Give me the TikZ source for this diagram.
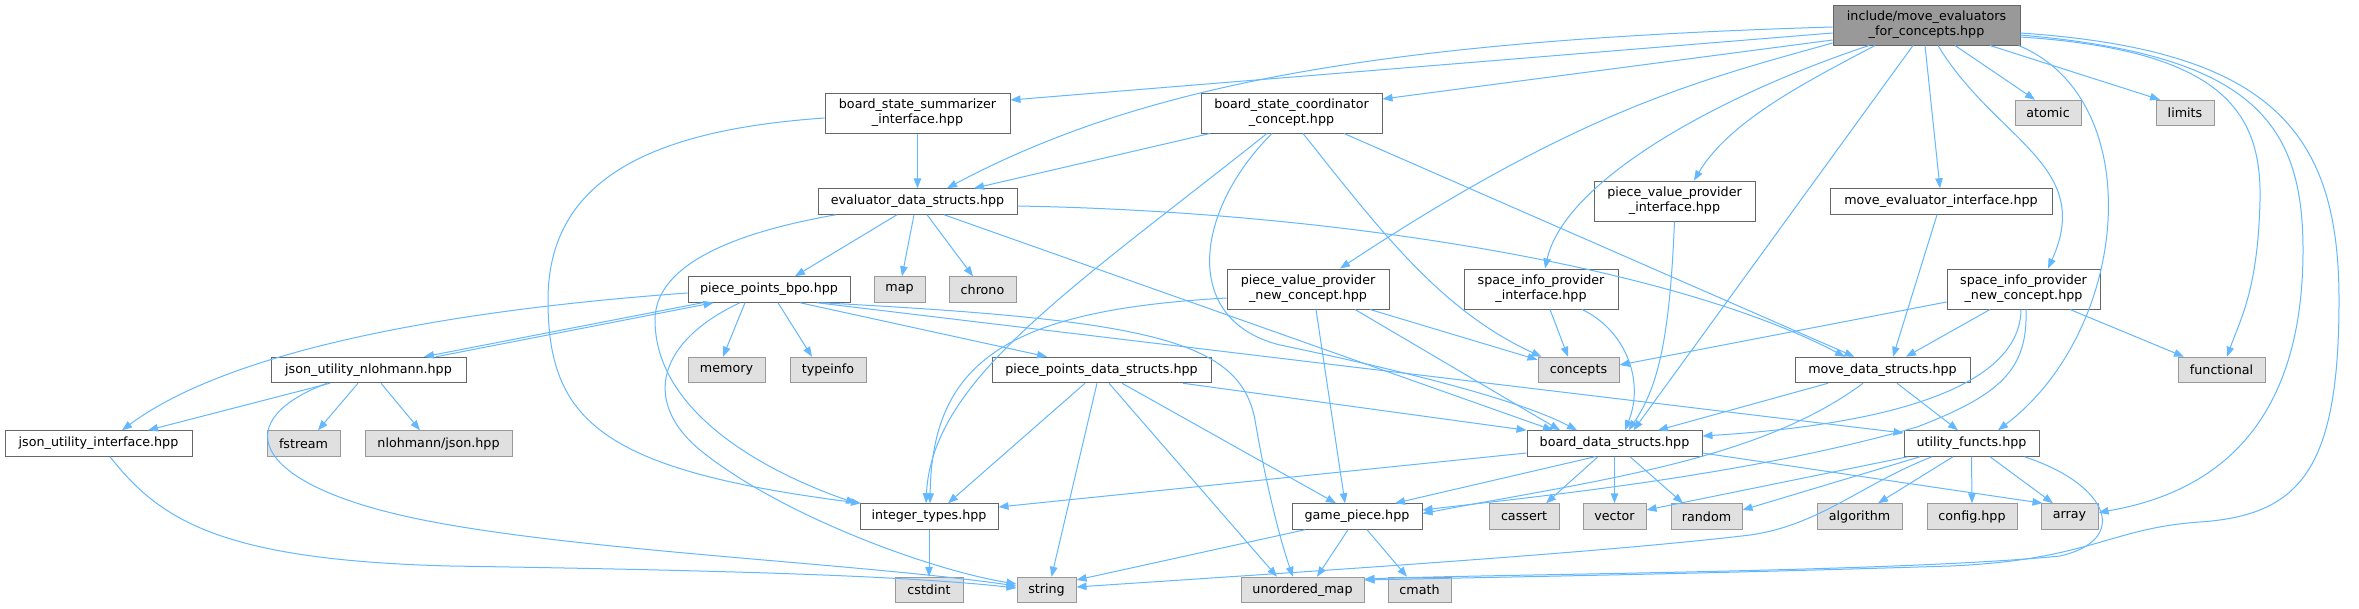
\documentclass[tikz,border=0pt]{standalone}
\usepackage{fontspec}
\newfontfamily\gfont{DejaVu Sans}
\usetikzlibrary{arrows.meta}
\definecolor{edgec}{HTML}{63B8FF}
\definecolor{cdark}{HTML}{666666}
\definecolor{cmid}{HTML}{999999}
\definecolor{clight}{HTML}{E0E0E0}
\tikzset{
  box/.style={line width=1pt, inner sep=0pt, minimum height=25.5pt, align=center, font=\gfont\fontsize{12.7}{15}\selectfont, text=black},
  fn/.style={box, draw=cdark, fill=white},
  sys/.style={box, draw=cmid, fill=clight},
  mainn/.style={box, draw=cdark, fill=cmid},
  e/.style={draw=edgec, line width=1pt, -{Triangle[length=10pt,width=7.5pt]}},
}
\begin{document}
\begin{tikzpicture}[x=1pt,y=-1pt]
\useasboundingbox (0,0) rectangle (2359,608);
\fill[white] (0,0) rectangle (2359,608);
% nodes
\node[mainn, minimum width=187pt, minimum height=40pt] (main) at (1926.5,25) {include/move\_evaluators\\\_for\_concepts.hpp};
\node[fn, minimum width=185pt, minimum height=40pt] (summ) at (917.5,113) {board\_state\_summarizer\\\_interface.hpp};
\node[fn, minimum width=181pt, minimum height=40pt] (coord) at (1291.5,113) {board\_state\_coordinator\\\_concept.hpp};
\node[fn, minimum width=199pt] (evald) at (917.5,201.5) {evaluator\_data\_structs.hpp};
\node[fn, minimum width=161pt, minimum height=40pt] (pvpi) at (1674.5,201) {piece\_value\_provider\\\_interface.hpp};
\node[fn, minimum width=222pt] (mei) at (1941,201.5) {move\_evaluator\_interface.hpp};
\node[sys, minimum width=66pt] (atomic) at (2048,113) {atomic};
\node[sys, minimum width=58pt] (limits) at (2185,113) {limits};
\node[fn, minimum width=162pt] (ppbpo) at (769,289.5) {piece\_points\_bpo.hpp};
\node[sys, minimum width=51pt] (map) at (899.5,289.5) {map};
\node[sys, minimum width=67pt] (chrono) at (982.5,289.5) {chrono};
\node[fn, minimum width=162pt, minimum height=40pt] (pvpn) at (1308,289) {piece\_value\_provider\\\_new\_concept.hpp};
\node[fn, minimum width=154pt, minimum height=40pt] (sipi) at (1541,289) {space\_info\_provider\\\_interface.hpp};
\node[fn, minimum width=153pt, minimum height=40pt] (sipn) at (2023.5,289) {space\_info\_provider\\\_new\_concept.hpp};
\node[fn, minimum width=195pt] (jun) at (368.5,370) {json\_utility\_nlohmann.hpp};
\node[sys, minimum width=77pt] (memory) at (726.5,370) {memory};
\node[sys, minimum width=76pt] (typeinfo) at (828,370) {typeinfo};
\node[fn, minimum width=219pt] (ppds) at (1101.5,370) {piece\_points\_data\_structs.hpp};
\node[sys, minimum width=81pt] (concepts) at (1578.5,370) {concepts};
\node[fn, minimum width=175pt] (mds) at (1882.5,370) {move\_data\_structs.hpp};
\node[sys, minimum width=87pt] (functional) at (2221.5,370) {functional};
\node[fn, minimum width=187pt] (jui) at (98.5,443.5) {json\_utility\_interface.hpp};
\node[sys, minimum width=73pt] (fstream) at (303.5,443.5) {fstream};
\node[sys, minimum width=147pt] (njson) at (438.5,443.5) {nlohmann/json.hpp};
\node[fn, minimum width=175pt] (bds) at (1614.5,443.5) {board\_data\_structs.hpp};
\node[fn, minimum width=135pt] (uf) at (1971.5,443.5) {utility\_functs.hpp};
\node[fn, minimum width=138pt] (it) at (929,516.5) {integer\_types.hpp};
\node[fn, minimum width=130pt] (gp) at (1357,516.5) {game\_piece.hpp};
\node[sys, minimum width=70pt] (cassert) at (1524,516.5) {cassert};
\node[sys, minimum width=63pt] (vector) at (1614.5,516.5) {vector};
\node[sys, minimum width=71pt] (random) at (1706.5,516.5) {random};
\node[sys, minimum width=85pt] (algorithm) at (1859.5,516.5) {algorithm};
\node[sys, minimum width=90pt] (config) at (1972,516.5) {config.hpp};
\node[sys, minimum width=57pt] (array) at (2069.5,516.5) {array};
\node[sys, minimum width=68pt] (cstdint) at (929,590) {cstdint};
\node[sys, minimum width=59pt] (string) at (1046.5,590) {string};
\node[sys, minimum width=123pt] (umap) at (1302.5,590) {unordered\_map};
\node[sys, minimum width=63pt] (cmath) at (1419.5,590) {cmath};
% edges from main
\draw[e] ([yshift=-2pt]main.west) .. controls (1400,40) and (1150,80) .. ([xshift=29.5pt]evald.north);
\draw[e] ([yshift=-8pt]main.west) -- ([yshift=13pt]summ.east);
\draw[e] ([yshift=-15pt]main.west) -- ([yshift=14pt]coord.east);
\draw[e] ([yshift=-18pt]main.west) .. controls (1700,80) and (1580,110) .. ([xshift=32pt]pvpn.north);
\draw[e] ([xshift=-57.5pt]main.south) .. controls (1720,95) and (1565,180) .. ([xshift=4pt]sipi.north);
\draw[e] ([xshift=-51.5pt]main.south) .. controls (1810,80) and (1730,120) .. ([xshift=19.5pt]pvpi.north);
\draw[e] ([xshift=-13.5pt]main.south) -- ([xshift=19pt]bds.north);
\draw[e] ([xshift=-1.5pt]main.south) -- ([xshift=-1pt]mei.north);
\draw[e] ([xshift=11.5pt]main.south) .. controls (1995,140) and (2095,165) .. ([xshift=24.5pt]sipn.north);
\draw[e] ([xshift=28.5pt]main.south) -- ([xshift=-13pt]atomic.north);
\draw[e] ([xshift=63.5pt]main.south) -- ([xshift=-25pt]limits.north);
\draw[e] ([xshift=-2pt]main.south east) .. controls (2150,100) and (2130,330) .. ([xshift=26.5pt]uf.north);
\draw[e] ([yshift=-12pt]main.east) .. controls (2220,50) and (2262,110) .. (2260,200) .. controls (2258,290) and (2240,320) .. ([xshift=5.5pt]functional.north);
\draw[e] ([yshift=-10pt]main.east) .. controls (2250,55) and (2303,120) .. (2303,250) .. controls (2303,440) and (2200,495) .. ([yshift=4pt]array.east);
\draw[e] ([yshift=-8pt]main.east) .. controls (2270,50) and (2339,130) .. (2339,300) .. controls (2339,470) and (2300,515) .. (2200,522) .. controls (2110,528) and (2090,560) .. (1950,566) .. controls (1700,574) and (1500,577) .. ([yshift=10pt]umap.east);
% summ
\draw[e] (summ) -- (evald);
\draw[e] ([yshift=-5pt]summ.west) .. controls (650,130) and (548,180) .. (548,300) .. controls (548,420) and (600,470) .. ([xshift=-68pt]it.north);
% evald
\draw[e] ([xshift=-20.5pt]evald.south) -- ([xshift=26pt]ppbpo.north);
\draw[e] ([xshift=-3.5pt]evald.south) -- ([xshift=2.5pt]map.north);
\draw[e] ([xshift=9.5pt]evald.south) -- ([xshift=-9.5pt]chrono.north);
\draw[e] ([xshift=26.5pt]evald.south) -- ([xshift=-61.5pt]bds.north);
\draw[e] ([yshift=-4.5pt]evald.east) .. controls (1350,212) and (1680,270) .. ([xshift=-37.5pt]mds.north);
\draw[e] ([xshift=-81.5pt]evald.south) .. controls (720,235) and (655,270) .. (655,320) .. controls (655,410) and (760,470) .. ([xshift=-73pt]it.north);
% coord
\draw[e] ([xshift=-81.5pt]coord.south) -- ([xshift=56.5pt]evald.north);
\draw[e] ([xshift=-24.5pt]coord.south) .. controls (1070,290) and (932,380) .. ([xshift=-3pt]it.north);
\draw[e] ([xshift=-19.5pt]coord.south) .. controls (1195,210) and (1180,320) .. (1280,345) .. controls (1400,370) and (1520,400) .. ([xshift=-37.5pt]bds.north);
\draw[e] ([xshift=11.5pt]coord.south) .. controls (1380,230) and (1440,310) .. ([xshift=4pt]concepts.north west);
\draw[e] ([xshift=52.5pt]coord.south) -- ([xshift=-28pt]mds.north);
% pvpn
\draw[e] ([yshift=-9pt]pvpn.west) .. controls (1010,310) and (932,360) .. ([xshift=1pt]it.north);
\draw[e] ([xshift=62pt]pvpn.south) -- ([yshift=-3pt]concepts.north west);
\draw[e] ([xshift=47pt]pvpn.south) -- ([xshift=-54.5pt]bds.north);
\draw[e] ([xshift=8pt]pvpn.south) -- ([xshift=-12pt]gp.north);
% sipi
\draw[e] ([xshift=9pt]sipi.south) -- ([xshift=-10.5pt]concepts.north);
\draw[e] ([xshift=41pt]sipi.south) .. controls (1625,330) and (1645,380) .. ([xshift=10.5pt]bds.north);
% pvpi
\draw[e] (pvpi.south) .. controls (1670,330) and (1660,385) .. ([xshift=14pt]bds.north);
% mei
\draw[e] ([xshift=-4pt]mei.south) -- ([xshift=10.5pt]mds.north);
% sipn
\draw[e] ([yshift=-13pt]sipn.west) -- ([yshift=5pt]concepts.east);
\draw[e] ([xshift=-33.5pt]sipn.south) -- ([xshift=23.5pt]mds.north);
\draw[e] ([xshift=-2.5pt]sipn.south) .. controls (2020,390) and (1880,425) .. ([yshift=7.5pt]bds.east);
\draw[e] ([xshift=2.5pt]sipn.south) .. controls (2028,370) and (2000,395) .. (1917,427) .. controls (1750,475) and (1550,495) .. ([yshift=6.5pt]gp.east);
\draw[e] ([xshift=46.5pt]sipn.south) -- ([xshift=-37.5pt]functional.north);
% mds
\draw[e] ([xshift=-54.5pt]mds.south) -- ([xshift=43.5pt]bds.north);
\draw[e] ([xshift=-19.5pt]mds.south) .. controls (1760,460) and (1600,480) .. ([yshift=3pt]gp.east);
\draw[e] ([xshift=14.5pt]mds.south) -- ([xshift=-13.5pt]uf.north);
% ppds
\draw[e] ([xshift=-16.5pt]ppds.south) -- ([xshift=19pt]it.north);
\draw[e] ([xshift=-4.5pt]ppds.south) -- ([xshift=5pt]string.north);
\draw[e] ([xshift=7.5pt]ppds.south) -- ([xshift=-25.5pt]umap.north);
\draw[e] ([xshift=20.5pt]ppds.south) -- ([xshift=-21pt]gp.north);
\draw[e] ([xshift=81.5pt]ppds.south) -- (bds.north west);
% ppbpo
\draw[e] ([xshift=15pt]ppbpo.south west) -- ([xshift=55.5pt]jun.north);
\draw[e] ([xshift=67.5pt]jun.north) -- ([xshift=26pt]ppbpo.south west);
\draw[e] ([yshift=-3.5pt]ppbpo.west) .. controls (450,310) and (230,350) .. ([xshift=23.5pt]jui.north);
\draw[e] ([xshift=-24pt]ppbpo.south) -- ([xshift=-3.5pt]memory.north);
\draw[e] ([xshift=9pt]ppbpo.south) -- ([xshift=-16pt]typeinfo.north);
\draw[e] ([xshift=31pt]ppbpo.south) -- ([xshift=-54.5pt]ppds.north);
\draw[e] ([xshift=48pt]ppbpo.south) -- ([yshift=10.5pt]uf.west);
\draw[e] ([xshift=52pt]ppbpo.south) .. controls (1150,320) and (1240,340) .. (1255,420) .. controls (1265,480) and (1280,540) .. ([xshift=-9.5pt]umap.north);
\draw[e] ([xshift=-29pt]ppbpo.south) .. controls (660,340) and (640,400) .. (700,450) .. controls (780,515) and (930,570) .. ([yshift=6pt]string.west);
% jun
\draw[e] ([xshift=-38.5pt]jun.south) -- ([xshift=49.5pt]jui.north);
\draw[e] ([xshift=-10.5pt]jun.south) -- ([xshift=14.5pt]fstream.north);
\draw[e] ([xshift=12.5pt]jun.south) -- ([xshift=-18.5pt]njson.north);
\draw[e] ([xshift=-41.5pt]jun.south) .. controls (230,420) and (250,480) .. (400,515) .. controls (550,550) and (850,562) .. ([yshift=4pt]string.west);
% jui
\draw[e] ([xshift=11.5pt]jui.south) .. controls (160,520) and (220,560) .. (450,566) .. controls (700,570) and (900,575) .. ([yshift=2pt]string.west);
% bds
\draw[e] ([yshift=-9.5pt]bds.west) -- ([yshift=9.5pt]it.east);
\draw[e] ([xshift=-19.5pt]bds.south) -- ([xshift=38pt]gp.north);
\draw[e] ([xshift=-16.5pt]bds.south) -- ([xshift=22pt]cassert.north);
\draw[e] (bds.south) -- (vector.north);
\draw[e] ([xshift=15.5pt]bds.south) -- ([xshift=-23.5pt]random.north);
\draw[e] ([yshift=-9.5pt]bds.east) -- ([xshift=2pt]array.north west);
% gp
\draw[e] ([xshift=-52pt]gp.south) -- ([yshift=10pt]string.east);
\draw[e] ([xshift=-9pt]gp.south) -- ([xshift=14.5pt]umap.north);
\draw[e] ([xshift=10pt]gp.south) -- ([xshift=-12.5pt]cmath.north);
% uf
\draw[e] ([xshift=-63.5pt]uf.south) -- ([yshift=6.5pt]vector.east);
\draw[e] ([xshift=-51.5pt]uf.south) -- ([yshift=6.5pt]random.east);
\draw[e] ([xshift=-18.5pt]uf.south) -- ([xshift=18.5pt]algorithm.north);
\draw[e] (uf.south) -- (config.north);
\draw[e] ([xshift=18.5pt]uf.south) -- ([xshift=-16.5pt]array.north);
\draw[e] ([xshift=-39.5pt]uf.south) .. controls (1860,485) and (1820,525) .. (1750,535) .. controls (1600,553) and (1300,572) .. ([yshift=3pt]string.east);
\draw[e] ([xshift=-15pt]uf.south east) .. controls (2110,485) and (2130,540) .. (2060,556) .. controls (1900,572) and (1500,574) .. ([yshift=11pt]umap.east);
% it
\draw[e] (it.south) -- (cstdint.north);
\end{tikzpicture}
\end{document}
